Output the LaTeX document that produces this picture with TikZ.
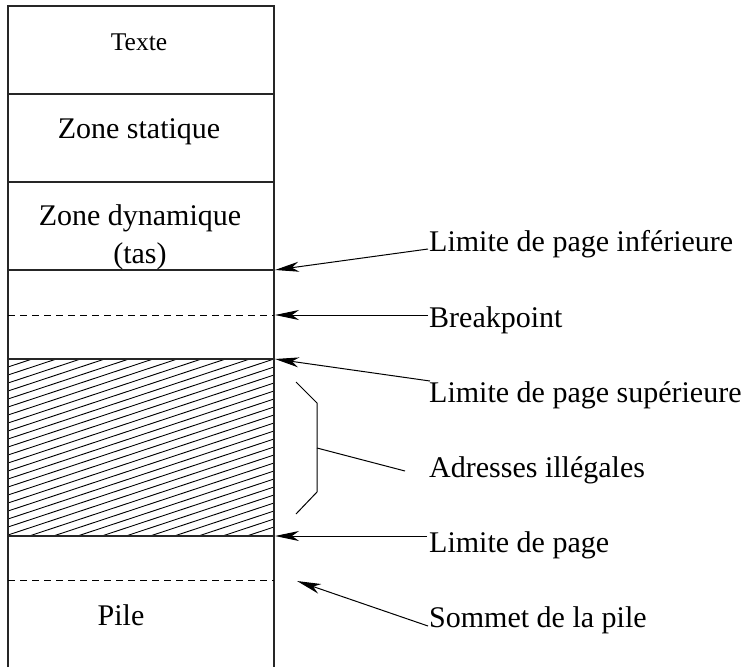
\documentclass[tikz,border=0pt]{standalone}
\usepackage{fontspec}
\setmainfont{Liberation Serif}
\usetikzlibrary{arrows.meta,calc}
\begin{document}
\begin{tikzpicture}[x=1pt,y=-1pt,
  font=\fontsize{30}{36}\selectfont,
  boxline/.style={line width=1.3pt,draw=black!85},
  dashline/.style={line width=1pt,dash pattern=on 7pt off 5pt},
  hatchline/.style={line width=0.9pt},
  arr/.style={line width=1pt,-{Stealth[length=24pt,width=10pt,inset=7pt]}},
  lbl/.style={anchor=base west,inner sep=0pt},
  zone/.style={anchor=base,inner sep=0pt}]
\useasboundingbox (0,0) rectangle (752,667);
% hatching
\begin{scope}
  \clip (8,359) rectangle (274,536);
  \foreach \k in {0,...,34}{
    \draw[hatchline] (8,{359+\k*8}) -- ++(266,-88);
  }
\end{scope}
% memory column
\draw[boxline] (8,667) -- (8,6) -- (274,6) -- (274,667);
\draw[boxline] (8,94) -- (274,94);
\draw[boxline] (8,182) -- (274,182);
\draw[boxline] (8,270) -- (274,270);
\draw[boxline] (8,359) -- (274,359);
\draw[boxline] (8,536) -- (274,536);
\draw[dashline] (8,315) -- (274,315);
\draw[dashline] (8,580) -- (274,580);
% zone texts
\node[zone,font=\fontsize{25.5}{30}\selectfont] (texte) at (139,50) {Texte};
\node[zone] (stat) at (139,138) {Zone statique};
\node[zone] (dyn) at (140,225) {Zone dynamique};
\node[zone] (tas) at (140,263) {(tas)};
\node[zone] (pile) at (121,625) {Pile};
% right labels
\node[lbl] (linf) at (429,251) {Limite de page inférieure};
\node[lbl] (brk) at (429,327) {Breakpoint};
\node[lbl] (lsup) at (429,402) {Limite de page supérieure};
\node[lbl] (adr) at (429,477) {Adresses illégales};
\node[lbl] (lim) at (429,552) {Limite de page};
\node[lbl] (som) at (429,627) {Sommet de la pile};
% arrow tips
\coordinate (tinf) at (275,270);
\coordinate (tbrk) at (275,315);
\coordinate (tsup) at (275,359);
\coordinate (tlim) at (275,536);
\coordinate (tsom) at (297,581);
\draw[arr] ([xshift=-1pt,yshift=2pt]linf.base west) -- (tinf);
\draw[arr] ([xshift=-1pt,yshift=12pt]brk.base west) -- (tbrk);
\draw[arr] ([xshift=1pt,yshift=21pt]lsup.base west) -- (tsup);
\draw[arr] ([xshift=-2pt,yshift=16pt]lim.base west) -- (tlim);
\draw[arr] ([xshift=-1pt,yshift=1pt]som.base west) -- (tsom);
% brace for illegal addresses
\coordinate (bmid) at (317,448);
\coordinate (bend) at (405,471);
\draw[line width=1pt] (296,382) -- (317,403) -- (317,492) -- (296,514);
\draw[line width=1pt] (bmid) -- (bend);
\end{tikzpicture}
\end{document}
